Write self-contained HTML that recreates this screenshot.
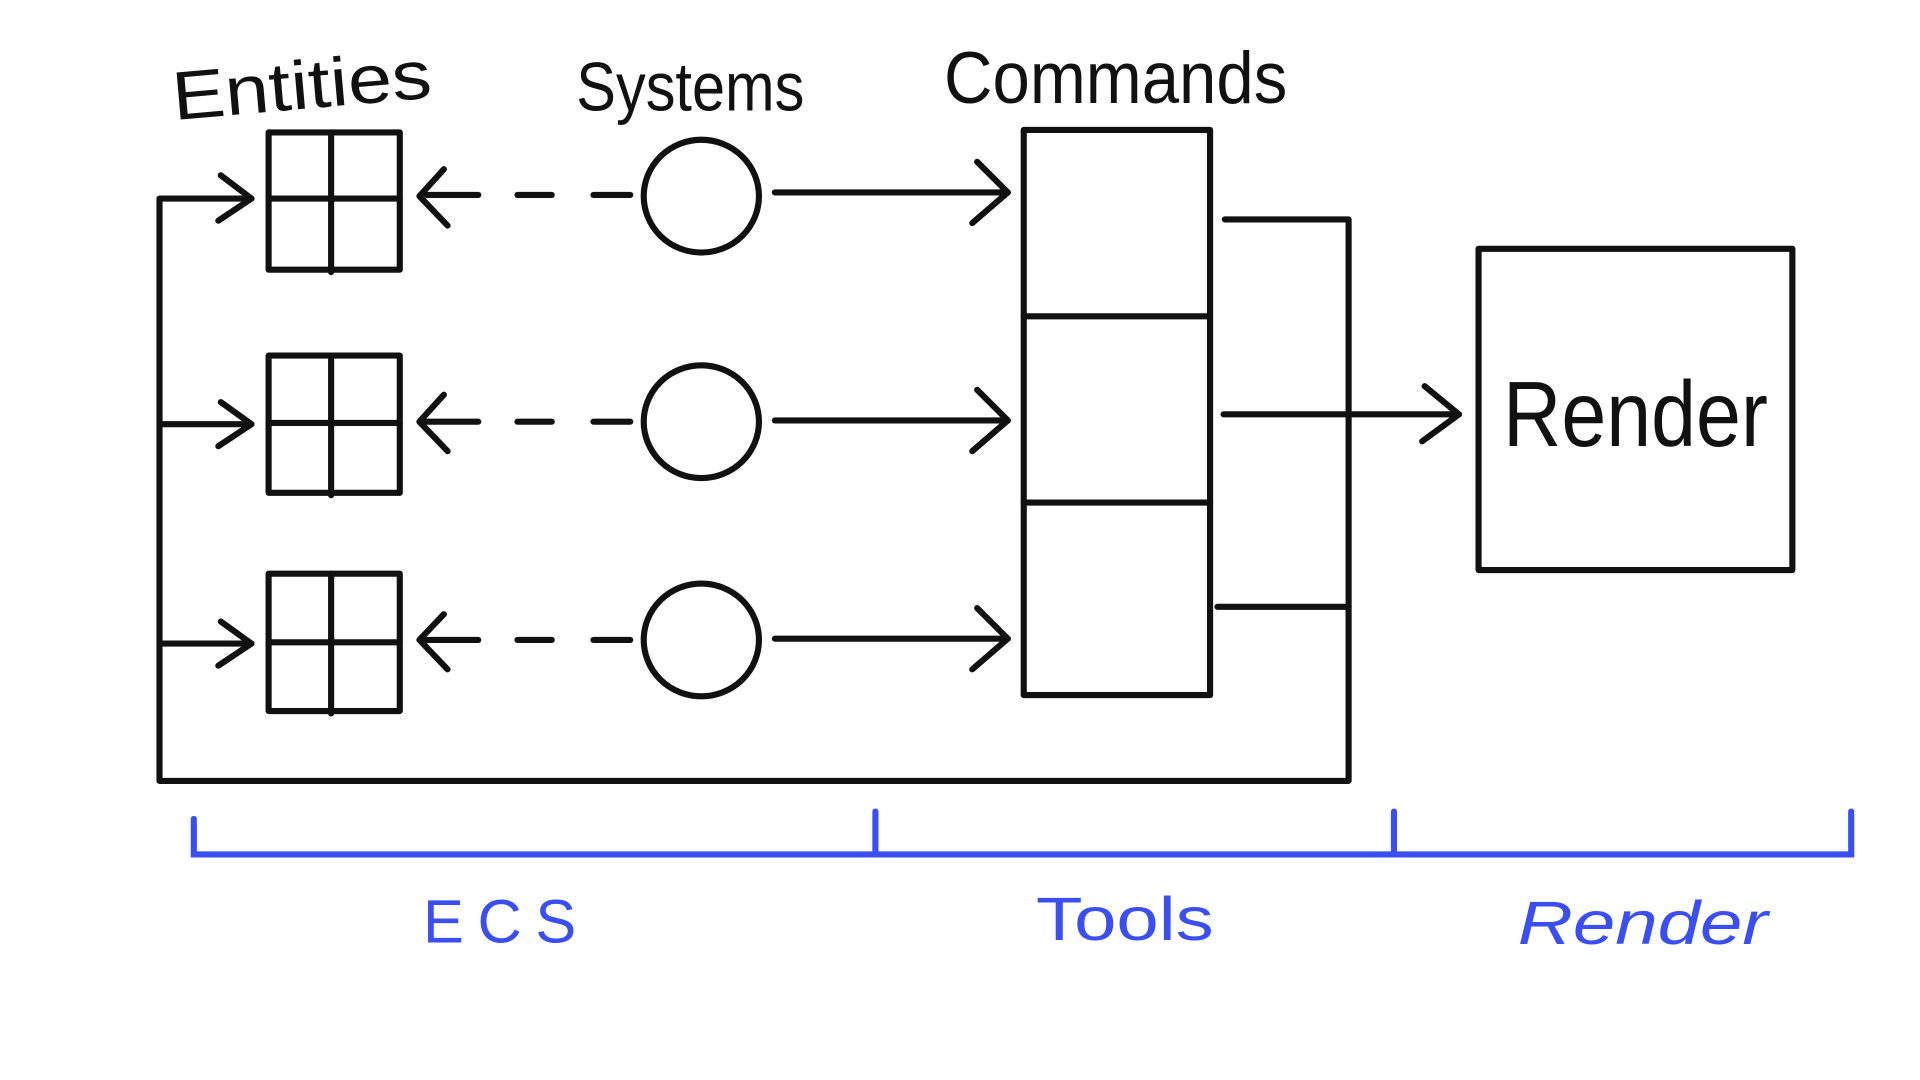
<!DOCTYPE html>
<html><head><meta charset="utf-8"><style>
html,body{margin:0;padding:0;background:#fff;width:1920px;height:1080px;overflow:hidden}
svg{display:block}
text{font-family:"Liberation Sans",sans-serif}
</style></head><body>
<svg width="1920" height="1080" viewBox="0 0 1566 881" xmlns="http://www.w3.org/2000/svg">
<g fill="none" stroke="#111" stroke-width="5" stroke-linecap="round" stroke-linejoin="round">
  <rect x="219" y="108" width="107" height="112"/>
  <line x1="270" y1="108" x2="270" y2="222"/>
  <line x1="219" y1="162" x2="326" y2="162"/>
  <rect x="219" y="290" width="107" height="112"/>
  <line x1="270" y1="290" x2="270" y2="404"/>
  <line x1="219" y1="345" x2="326" y2="345"/>
  <rect x="219" y="468" width="107" height="112"/>
  <line x1="270" y1="468" x2="270" y2="582"/>
  <line x1="219" y1="524" x2="326" y2="524"/>
  <g>
    <polyline points="362,138 342,160 365,184"/>
    <line x1="348" y1="159" x2="390" y2="159"/><line x1="422" y1="159" x2="450" y2="159"/><line x1="484" y1="159" x2="514" y2="159"/>
    <polyline points="362,322 342,344 365,368"/>
    <line x1="348" y1="344" x2="390" y2="344"/><line x1="422" y1="344" x2="450" y2="344"/><line x1="484" y1="344" x2="514" y2="344"/>
    <polyline points="362,501 342,522 365,546"/>
    <line x1="348" y1="522" x2="390" y2="522"/><line x1="422" y1="522" x2="450" y2="522"/><line x1="484" y1="522" x2="514" y2="522"/>
  </g>
  <ellipse cx="572" cy="160" rx="47" ry="46"/>
  <ellipse cx="572" cy="344" rx="47" ry="46"/>
  <ellipse cx="572" cy="522" rx="47" ry="46"/>
  <line x1="632" y1="157" x2="822" y2="157"/><polyline points="797,132 822,157 793,182"/>
  <line x1="632" y1="343" x2="822" y2="343"/><polyline points="797,318 822,343 793,368"/>
  <line x1="632" y1="521" x2="822" y2="521"/><polyline points="797,496 822,521 793,546"/>
  <rect x="835" y="106" width="152" height="461"/>
  <line x1="835" y1="258" x2="987" y2="258"/>
  <line x1="835" y1="410" x2="987" y2="410"/>
  <polyline points="999,179 1100,179 1100,637 130,637 130,162 205,162"/>
  <line x1="993" y1="495" x2="1100" y2="495"/>
  <line x1="998" y1="338" x2="1190" y2="338"/><polyline points="1162,315 1190,338 1160,360"/>
  <polyline points="180,143 205,162 178,180"/>
  <line x1="130" y1="346" x2="205" y2="346"/><polyline points="180,328 205,346 178,364"/>
  <line x1="130" y1="525" x2="205" y2="525"/><polyline points="180,507 205,525 178,543"/>
  <rect x="1206" y="203" width="256" height="262"/>
</g>
<g fill="#111">
  <text x="142" y="98" font-size="56" textLength="212" lengthAdjust="spacingAndGlyphs" transform="rotate(-5 142 98)">Entities</text>
  <text x="470" y="90" font-size="56" textLength="186" lengthAdjust="spacingAndGlyphs">Systems</text>
  <text x="770" y="84" font-size="60" textLength="280" lengthAdjust="spacingAndGlyphs">Commands</text>
  <text x="1226" y="364" font-size="76" textLength="216" lengthAdjust="spacingAndGlyphs">Render</text>
</g>
<g fill="none" stroke="#3a4ef2" stroke-width="5" stroke-linecap="round">
  <polyline points="158,668 158,697 1510,697 1510,662"/>
  <line x1="714" y1="662" x2="714" y2="697"/>
  <line x1="1137" y1="662" x2="1137" y2="697"/>
</g>
<g fill="#3a4ef2" font-size="50">
  <text x="345" y="769" textLength="125" lengthAdjust="spacing">ECS</text>
  <text x="845" y="767" textLength="145" lengthAdjust="spacingAndGlyphs">Tools</text>
  <text x="1238" y="770" font-style="italic" textLength="204" lengthAdjust="spacingAndGlyphs">Render</text>
</g>
</svg>
</body></html>
